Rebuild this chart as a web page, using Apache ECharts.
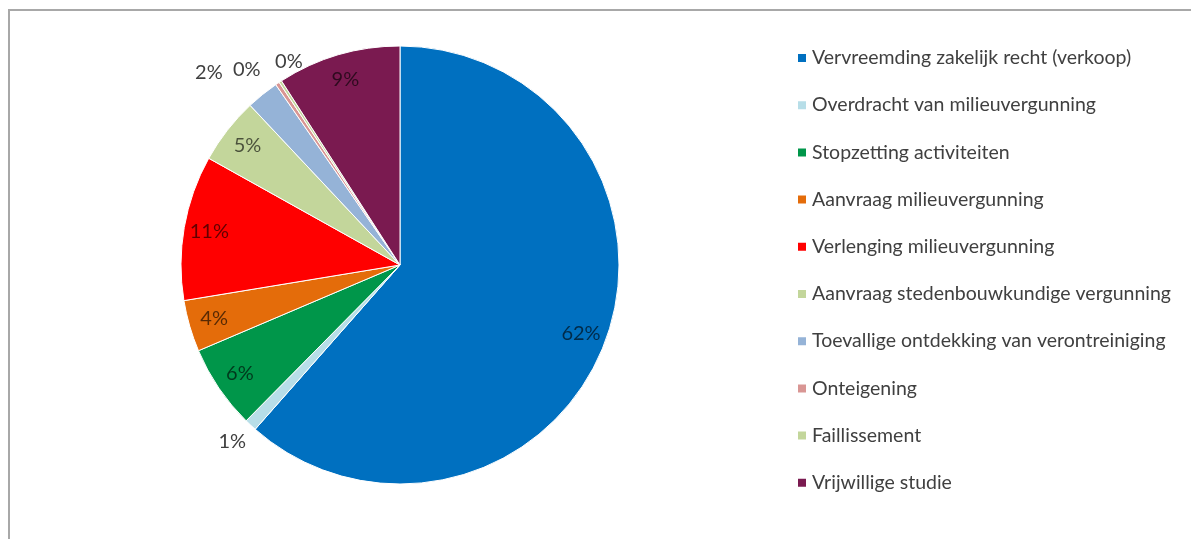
<!DOCTYPE html>
<html>
<head>
<meta charset="utf-8">
<script src="https://cdn.jsdelivr.net/npm/echarts@6/dist/echarts.min.js"></script>
<style>
  html, body { margin: 0; padding: 0; background: #ffffff; }
  #frame { position: absolute; left: 8px; top: 9px; width: 1183px; height: 530px;
           border-top: 2px solid #a8a8a8; border-left: 2px solid #a8a8a8; box-sizing: border-box; }
  #chart { position: absolute; left: 0; top: 0; width: 1191px; height: 539px; }
</style>
</head>
<body>
<div id="frame"></div>
<div id="chart"></div>
<script>
const categories = [
  'Vervreemding zakelijk recht (verkoop)',
  'Overdracht van milieuvergunning',
  'Stopzetting activiteiten',
  'Aanvraag milieuvergunning',
  'Verlenging milieuvergunning',
  'Aanvraag stedenbouwkundige vergunning',
  'Toevallige ontdekking van verontreiniging',
  'Onteigening',
  'Faillissement',
  'Vrijwillige studie'
];
const values = [61.5, 0.9, 6.2, 3.8, 10.7, 4.9, 2.4, 0.3, 0.2, 9.1];
const colors = ['#0070C0', '#B7DEE8', '#00964A', '#E46C0A', '#FF0000',
                '#C3D69B', '#95B3D7', '#D99694', '#C3D69B', '#7A1A50'];
const outsideLabel = [false, true, false, false, false, false, true, true, true, false];
// small nudges for the crowded outside labels (index -> [dx, dy])
const labelNudge = { 1: [10, 6], 6: [-26, -11], 7: [-4, -2], 8: [35, -8] };

const FONT = 'Lato, "Open Sans", sans-serif';
const R = 219;

const pieData = categories.map((name, i) => ({ name, value: values[i] }));

const labelData = categories.map((name, i) => ({
  name, value: values[i],
  label: outsideLabel[i]
    ? { position: 'outside', color: '#404040' }
    : { position: 'inside', color: 'rgba(0,0,0,0.62)' },
  labelLine: { show: false, length: outsideLabel[i] ? 14 : 0, length2: 0 }
}));

const chart = echarts.init(document.getElementById('chart'), null, { renderer: 'canvas' });
chart.setOption({
  animation: false,
  color: colors,
  legend: {
    orient: 'vertical',
    left: 791,
    top: 43,
    itemWidth: 10,
    itemHeight: 10,
    itemGap: 27.2,
    icon: 'rect',
    data: categories,
    textStyle: { fontFamily: FONT, fontSize: 19.5, lineHeight: 19, color: '#404040', padding: [0, 0, 0, 0] }
  },
  series: [
    {
      type: 'pie',
      center: [400, 265],
      radius: [0, R],
      startAngle: 90,
      clockwise: true,
      avoidLabelOverlap: false,
      silent: true,
      label: { show: false },
      labelLine: { show: false },
      itemStyle: { borderColor: '#ffffff', borderWidth: 1 },
      data: pieData
    },
    {
      type: 'pie',
      center: [400, 265],
      radius: [R * 0.74, R],
      startAngle: 90,
      clockwise: true,
      avoidLabelOverlap: false,
      percentPrecision: 0,
      minShowLabelAngle: 0,
      silent: true,
      legendHoverLink: false,
      itemStyle: { color: 'rgba(0,0,0,0)', borderWidth: 0 },
      label: {
        show: true,
        formatter: '{d}%',
        fontFamily: FONT,
        fontSize: 20
      },
      labelLayout: function (params) {
        const n = labelNudge[params.dataIndex];
        return n ? { dx: n[0], dy: n[1], hideOverlap: false } : { hideOverlap: false };
      },
      data: labelData
    }
  ]
});
</script>
</body>
</html>
